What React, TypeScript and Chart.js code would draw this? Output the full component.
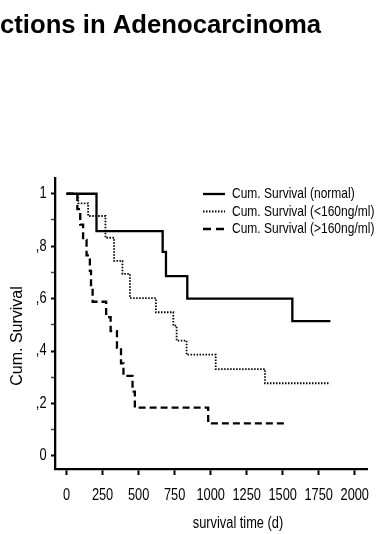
import { useEffect, useRef } from 'react';
import { Chart, registerables } from 'chart.js';

Chart.register(...registerables);

// ---- text ----
const titleText = 'ctions in Adenocarcinoma';
const yAxisTitle = 'Cum. Survival';
const xAxisTitle = 'survival time (d)';
const seriesLabels = ['Cum. Survival (normal)', 'Cum. Survival (<160ng/ml)', 'Cum. Survival (>160ng/ml)'];

// ---- data (days, cumulative survival) ----
const normalDays = [0, 208, 667, 690, 838, 1567, 1831];
const normalSurv = [1, 0.857, 0.778, 0.686, 0.6, 0.514, 0.514];

const lowDays = [0, 81, 150, 270, 330, 388, 440, 620, 741, 764, 833, 1035, 1377, 1829];
const lowSurv = [1, 0.963, 0.915, 0.832, 0.744, 0.694, 0.602, 0.548, 0.497, 0.44, 0.386, 0.331, 0.277, 0.277];

const highDays = [0, 75, 95, 115, 139, 162, 170, 181, 275, 306, 350, 378, 395, 458, 474, 983, 1516];
const highSurv = [1, 0.941, 0.882, 0.824, 0.765, 0.706, 0.647, 0.588, 0.529, 0.476, 0.412, 0.353, 0.305, 0.245, 0.184, 0.124, 0.124];

// ---- ticks ----
const xTickValues = [0, 250, 500, 750, 1000, 1250, 1500, 1750, 2000];
const xTickLabels = ['0', '250', '500', '750', '1000', '1250', '1500', '1750', '2000'];
const yTickValues = [0, 0.1, 0.2, 0.3, 0.4, 0.5, 0.6, 0.7, 0.8, 0.9, 1];
const yTickLabels = ['0', '', ',2', '', ',4', '', ',6', '', ',8', '', '1'];

const REGULAR = '"Liberation Sans", Arial, sans-serif';
const SQUEEZE = 0.8; // condensed look of the original (Arial Narrow-like)

const toPoints = (xs: number[], ys: number[]) => xs.map((x, i) => ({ x, y: ys[i] }));

function narrowText(
  ctx: CanvasRenderingContext2D,
  text: string,
  x: number,
  y: number,
  size: number,
  align: CanvasTextAlign,
) {
  ctx.save();
  ctx.translate(x, y);
  ctx.scale(SQUEEZE, 1);
  ctx.font = `${size}px ${REGULAR}`;
  ctx.textAlign = align;
  ctx.textBaseline = 'middle';
  ctx.fillText(text, 0, 0);
  ctx.restore();
}

const overlayPlugin = {
  id: 'overlay',
  afterDraw(chart: any) {
    const ctx = chart.ctx as CanvasRenderingContext2D;
    const xs = chart.scales.x;
    const ys = chart.scales.y;
    ctx.save();
    ctx.fillStyle = '#000';
    // title
    ctx.font = `bold 25.7px ${REGULAR}`;
    ctx.textAlign = 'left';
    ctx.textBaseline = 'alphabetic';
    ctx.fillText(titleText, 0, 33);
    // y axis title
    ctx.save();
    ctx.translate(18, 336);
    ctx.rotate(-Math.PI / 2);
    ctx.font = `16px ${REGULAR}`;
    ctx.textAlign = 'center';
    ctx.textBaseline = 'middle';
    ctx.fillText(yAxisTitle, 0, 0);
    ctx.restore();
    // tick labels (condensed)
    xTickValues.forEach((v, i) => {
      narrowText(ctx, xTickLabels[i], xs.getPixelForValue(v), 496, 16, 'center');
    });
    yTickValues.forEach((v, i) => {
      if (yTickLabels[i]) narrowText(ctx, yTickLabels[i], 46.5, ys.getPixelForValue(v), 16, 'right');
    });
    // x axis title
    narrowText(ctx, xAxisTitle, 238, 524, 16, 'center');
    // legend
    chart.data.datasets.forEach((ds: any, i: number) => {
      const y = 194 + i * 17.5;
      ctx.beginPath();
      ctx.setLineDash(ds.legendDash || ds.borderDash || []);
      ctx.lineWidth = ds.borderWidth;
      ctx.strokeStyle = ds.borderColor;
      ctx.moveTo(203, y);
      ctx.lineTo(225, y);
      ctx.stroke();
      ctx.setLineDash([]);
      narrowText(ctx, ds.label, 232, y, 15, 'left');
    });
    ctx.restore();
  },
};

export default function App() {
  const canvasRef = useRef<HTMLCanvasElement | null>(null);

  useEffect(() => {
    if (!canvasRef.current) return;
    const chart = new Chart(canvasRef.current, {
      type: 'line',
      data: {
        datasets: [
          {
            label: seriesLabels[0],
            data: toPoints(normalDays, normalSurv),
            stepped: true,
            borderColor: '#000',
            borderWidth: 2.3,
            pointRadius: 0,
            fill: false,
          },
          {
            label: seriesLabels[1],
            data: toPoints(lowDays, lowSurv),
            stepped: true,
            borderColor: '#000',
            borderWidth: 1.8,
            borderDash: [1.5, 1.5],
            pointRadius: 0,
            fill: false,
          },
          {
            label: seriesLabels[2],
            data: toPoints(highDays, highSurv),
            stepped: true,
            borderColor: '#000',
            borderWidth: 2.3,
            borderDash: [7, 4],
            legendDash: [8, 5],
            pointRadius: 0,
            fill: false,
          } as any,
        ],
      },
      options: {
        responsive: false,
        animation: false,
        devicePixelRatio: 1,
        layout: { padding: { top: 178, right: 15, bottom: 0, left: 0 } },
        plugins: {
          legend: { display: false },
          tooltip: { enabled: false },
          title: { display: false },
        },
        scales: {
          x: {
            type: 'linear',
            min: -80,
            max: 2085,
            afterBuildTicks: (scale: any) => {
              scale.ticks = xTickValues.map((v) => ({ value: v }));
            },
            afterFit: (scale: any) => {
              scale.height = 65;
            },
            ticks: { display: false, autoSkip: false, maxRotation: 0 },
            grid: {
              drawOnChartArea: false,
              drawTicks: true,
              tickLength: 6,
              tickColor: '#000',
              tickWidth: 2,
            },
            border: { display: true, color: '#000', width: 2.3 },
          },
          y: {
            type: 'linear',
            min: -0.05,
            max: 1.06,
            afterBuildTicks: (scale: any) => {
              scale.ticks = yTickValues.map((v) => ({ value: v }));
            },
            afterFit: (scale: any) => {
              scale.width = 55;
            },
            ticks: { display: false, autoSkip: false },
            grid: {
              drawOnChartArea: false,
              drawTicks: true,
              tickLength: 4,
              tickColor: (c: any) => (yTickLabels[c.index] ? '#000' : '#444'),
              tickWidth: (c: any) => (yTickLabels[c.index] ? 2 : 1.5),
            },
            border: { display: true, color: '#000', width: 2.3 },
          },
        },
      },
      plugins: [overlayPlugin],
    } as any);
    return () => chart.destroy();
  }, []);

  return (
    <div style={{ position: 'absolute', left: 0, top: 0, width: 382, height: 534, background: '#fff' }}>
      <canvas ref={canvasRef} width={382} height={534} style={{ display: 'block', width: 382, height: 534 }} />
    </div>
  );
}
